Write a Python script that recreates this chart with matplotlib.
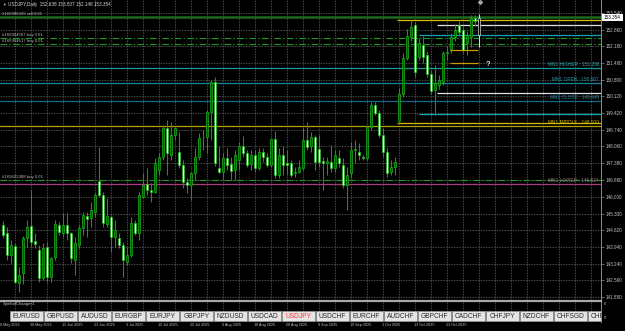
import numpy as np
import matplotlib
matplotlib.use('Agg')
import matplotlib.pyplot as plt
from matplotlib.patches import Rectangle

plt.rcParams['font.family'] = ['Liberation Sans', 'DejaVu Sans']

# daily USDJPY candles (bar 0 = 20 May 2025)
opens = [
    144.84, 144.49, 143.61, 143.98, 142.45, 142.85, 144.29, 144.80, 144.18, 143.81,
    142.65, 143.95, 142.72, 143.54, 144.84, 144.49, 144.84, 144.49, 143.40, 144.02,
    144.70, 145.22, 145.11, 145.38, 146.66, 146.07, 144.88, 145.18, 144.36, 144.29,
    144.02, 143.33, 143.61, 144.91, 144.49, 146.00, 146.51, 146.27, 146.21, 147.10,
    147.64, 148.81, 147.71, 148.53, 147.85, 147.30, 146.62, 146.48, 146.96, 147.64,
    148.44, 148.46, 149.49, 150.72, 147.19, 147.03, 147.57, 147.33, 147.10, 147.50,
    148.08, 147.81, 147.34, 147.71, 147.16, 147.85, 147.64, 147.30, 148.35, 146.89,
    147.71, 147.37, 147.37, 146.96, 147.03, 147.16, 148.33, 148.06, 148.46, 147.95,
    147.47, 147.40, 147.44, 147.16, 147.57, 147.30, 146.48, 146.96, 147.92, 147.85,
    147.64, 147.57, 148.87, 149.76, 149.45, 148.53, 147.85, 147.03, 147.23, 149.10,
    150.20, 151.70, 152.57, 153.05, 151.75, 152.23, 151.82, 151.05, 150.38, 150.60,
    150.70, 151.90, 152.02, 152.57, 153.05, 152.84, 152.30, 152.57, 153.32, 152.638,
]
highs = [
    145.00, 144.77, 144.22, 144.10, 143.10, 144.40, 145.04, 146.27, 144.50, 144.02,
    144.08, 144.15, 143.54, 145.04, 144.95, 145.31, 145.31, 144.56, 144.36, 144.84,
    145.38, 145.38, 145.79, 146.14, 148.02, 146.21, 145.93, 145.25, 145.04, 144.49,
    144.15, 143.95, 145.18, 145.04, 146.21, 146.96, 147.16, 146.55, 147.57, 147.78,
    148.94, 149.15, 149.08, 148.87, 148.67, 147.50, 146.75, 147.03, 147.99, 148.60,
    148.74, 149.56, 150.79, 150.90, 148.08, 147.78, 147.99, 147.64, 147.92, 148.26,
    148.49, 147.92, 147.92, 147.92, 147.99, 147.99, 147.78, 148.40, 148.71, 147.99,
    148.06, 147.92, 147.50, 147.23, 147.50, 148.87, 149.08, 148.67, 148.53, 148.53,
    147.64, 147.64, 148.12, 147.92, 147.92, 147.57, 147.23, 148.26, 148.33, 148.19,
    147.71, 148.94, 149.90, 149.90, 149.56, 148.81, 147.99, 147.50, 147.64, 150.45,
    151.90, 152.90, 153.25, 153.18, 152.50, 152.60, 152.00, 151.20, 151.40, 151.00,
    152.00, 152.20, 152.70, 153.10, 153.20, 153.00, 152.80, 153.46, 153.45, 153.507,
]
lows = [
    144.30, 143.40, 143.26, 142.44, 142.10, 142.40, 143.95, 143.95, 143.90, 142.51,
    142.58, 142.51, 142.51, 143.40, 144.43, 144.36, 144.22, 143.26, 142.78, 143.88,
    144.43, 144.36, 144.77, 145.18, 146.00, 144.77, 144.77, 143.74, 143.95, 143.88,
    142.72, 143.20, 143.54, 144.43, 144.22, 145.93, 146.07, 145.79, 146.14, 146.89,
    147.50, 146.89, 147.50, 148.33, 147.16, 146.34, 146.14, 145.86, 146.69, 147.50,
    147.92, 147.78, 148.33, 147.26, 146.96, 146.69, 147.10, 146.69, 146.69, 147.10,
    147.64, 147.23, 147.10, 147.03, 147.10, 147.44, 147.23, 147.23, 146.75, 146.75,
    146.89, 146.89, 146.82, 146.82, 146.96, 147.10, 147.92, 147.85, 147.10, 147.23,
    146.27, 146.89, 147.03, 147.03, 147.23, 146.34, 145.45, 146.75, 147.37, 147.50,
    147.50, 147.50, 148.74, 149.35, 148.46, 147.64, 146.82, 146.89, 146.89, 149.00,
    150.10, 151.60, 152.40, 150.93, 151.60, 151.50, 150.90, 150.20, 149.35, 150.40,
    150.60, 151.60, 151.90, 152.40, 152.60, 151.90, 151.80, 152.16, 153.00, 152.148,
]
closes = [
    144.43, 143.61, 144.02, 142.51, 142.80, 144.29, 144.77, 144.15, 144.04, 142.65,
    143.88, 142.72, 143.47, 144.86, 144.54, 144.84, 144.49, 143.47, 144.08, 144.70,
    145.25, 145.07, 145.45, 146.07, 146.07, 144.91, 145.21, 144.36, 144.63, 144.02,
    143.40, 143.61, 144.91, 144.49, 146.07, 146.48, 146.27, 146.21, 147.37, 147.64,
    148.81, 147.78, 148.53, 148.81, 147.30, 146.62, 146.48, 146.96, 147.64, 148.40,
    148.47, 149.49, 150.72, 147.37, 147.03, 147.57, 147.30, 147.07, 147.71, 148.08,
    147.78, 147.30, 147.71, 147.16, 147.85, 147.64, 147.30, 148.35, 146.89, 147.71,
    147.30, 147.30, 146.89, 147.03, 147.23, 148.33, 148.03, 148.46, 147.44, 147.44,
    147.40, 147.47, 147.16, 147.71, 147.37, 146.48, 146.89, 147.92, 147.96, 147.71,
    147.57, 148.87, 149.76, 149.42, 148.53, 147.85, 146.96, 147.23, 147.44, 150.20,
    151.70, 152.60, 152.98, 151.13, 152.30, 151.75, 151.05, 150.35, 150.65, 150.80,
    151.90, 151.95, 152.57, 152.84, 152.75, 152.02, 152.64, 153.32, 153.20, 153.354,
]

date_bars = [0, 8, 16, 24, 32, 40, 48, 56, 64, 72, 80, 88, 96, 104, 112]
date_labels = ['20 May 2025', '30 May 2025', '11 Jun 2025', '23 Jun 2025', '3 Jul 2025',
               '15 Jul 2025', '25 Jul 2025', '6 Aug 2025', '18 Aug 2025', '28 Aug 2025',
               '9 Sep 2025', '19 Sep 2025', '1 Oct 2025', '13 Oct 2025', '23 Oct 2025']
price_ticks = [153.540, 152.860, 152.180, 151.480, 150.800, 150.120, 149.420, 148.740, 148.060,
               147.380, 146.680, 146.000, 145.300, 144.620, 143.940, 143.240, 142.560, 141.880]

# monthly levels
mn1_names = ['MN1 HIGHER', 'MN1 OPEN', 'MN1 CLOSE', 'MN1 MIDDLE', 'MN1 LOWER']
mn1_values = [151.296, 150.667, 149.948, 148.910, 146.524]
mn1_line_colors = ['#169aa0', '#13879a', '#136a88', '#b4a000', '#a83c78']
mn1_text_colors = ['#2aa4aa', '#2a98a8', '#2a88a8', '#d4c000', '#a07890']

# open orders
order_labels = ['#166906665 sell 0.01', '#166904567 buy 0.01', '#166904617 buy 0.01', '#165822488 buy 0.01']
order_prices = [153.37, 152.51, 152.27, 146.68]

# other horizontal levels drawn from a bar to the right edge
ray_prices = [153.25, 149.03, 152.64, 149.39, 153.05, 150.26]
ray_start = [98.5, 98.5, 104, 104, 108.5, 108.5]
ray_colors = ['#d8c000', '#d8c000', '#10a8b0', '#10a8b0', '#e0e0e0', '#e0e0e0']
seg_prices = [152.02, 151.49]
seg_span = (111.75, 118.75)

symbols = ['EURUSD', 'GBPUSD', 'AUDUSD', 'EURGBP', 'EURJPY', 'GBPJPY', 'NZDUSD', 'USDCAD', 'USDJPY',
           'USDCHF', 'EURCHF', 'AUDCHF', 'GBPCHF', 'CADCHF', 'CHFJPY', 'NZDCHF', 'CHFSGD', 'CHFHKD']
current = 'USDJPY'

W, H = 625, 331
fig = plt.figure(figsize=(W / 100, H / 100), dpi=100, facecolor='black')

ax = fig.add_axes([0, 1 - 300 / H, 601 / W, 300 / H], facecolor='black')
ax.set_xlim(-0.75, 149.5)
ax.set_ylim(141.758, 154.074)

o = np.array(opens); h = np.array(highs); l = np.array(lows); c = np.array(closes)
x = np.arange(len(o))
bull = c >= o
last = len(o) - 1

wick_cols = ['#139c13'] * last + ['#d8d8d8']
ax.vlines(x, l, h, colors=wick_cols, linewidth=0.75, zorder=3)
bottoms = np.minimum(o, c)
heights = np.maximum(np.abs(c - o), 0.025)
faces = np.where(bull, '#0b540b', '#e4ffe4').tolist()
edges = ['#18b418'] * len(o)
faces[last] = 'black'
edges[last] = '#d8d8d8'
ax.bar(x, heights, bottom=bottoms, width=0.72, color=faces, edgecolor=edges,
       linewidth=0.5, zorder=4)

# grid
ax.set_xticks(np.arange(3.1, 150, 4))
ax.tick_params(axis='x', length=0, labelbottom=False)
ax.yaxis.tick_right()
ax.set_yticks(price_ticks)
ax.set_yticklabels(['%.3f' % p for p in price_ticks])
ax.tick_params(axis='y', colors='#8c8c8c', labelcolor='#c4c4c4', labelsize=3.3,
               length=2, width=0.5, pad=1.5)
ax.grid(True, color='#5e5e5e', linestyle=(0, (1.6, 1.6)), linewidth=0.6)
ax.set_axisbelow(True)
for s in ['top', 'left', 'bottom']:
    ax.spines[s].set_visible(False)
ax.spines['right'].set_color('#8c8c8c')
ax.spines['right'].set_linewidth(0.7)

# monthly levels
for name, v, lc, tc in zip(mn1_names, mn1_values, mn1_line_colors, mn1_text_colors):
    ax.axhline(v, color=lc, linewidth=0.9, zorder=2)
    ax.annotate('%s : %.3f' % (name, v), (149, v), xytext=(0, 0.6), textcoords='offset points',
                ha='right', va='bottom', fontsize=3.4, color=tc, zorder=6)

for p, s0, col in zip(ray_prices, ray_start, ray_colors):
    ax.hlines(p, s0, 149.5, colors=col, linewidth=0.9, zorder=2)
ax.hlines(seg_prices, seg_span[0], seg_span[1], colors='#c89a00', linewidth=0.9, zorder=5)

# orders
for i, (lab, p) in enumerate(zip(order_labels, order_prices)):
    if 'sell' in lab:
        ax.axhline(p, color='#1d6a1d', linewidth=1.8, zorder=2)
    else:
        ax.axhline(p, color='#1f9a1f', linewidth=0.8, linestyle=(0, (6, 2, 1.2, 2)), zorder=2)
    ax.annotate(lab, (-0.2, p), xytext=(0, 0.8), textcoords='offset points',
                ha='left', va='bottom', fontsize=3.1, color='#b4b4b4', zorder=6)

# sub window (symbol changer)
ax2 = fig.add_axes([0, 1 - 322 / H, 601 / W, 21 / H], facecolor='black', sharex=ax)
ax2.set_ylim(0, 1)
ax2.set_yticks([])
ax2.tick_params(axis='x', length=0, labelbottom=False)
ax2.grid(True, axis='x', color='#5e5e5e', linestyle=(0, (1.6, 1.6)), linewidth=0.6)
for s in ['left', 'bottom']:
    ax2.spines[s].set_visible(False)
ax2.spines['top'].set_color('#a8a8a8')
ax2.spines['top'].set_linewidth(1.6)
ax2.spines['right'].set_color('#8c8c8c')
ax2.spines['right'].set_linewidth(0.7)
for b, lab in zip(date_bars, date_labels):
    ax2.text(b - 1.2, -0.16, lab, transform=ax2.get_xaxis_transform(), ha='left', va='center',
             fontsize=2.7, color='#c4c4c4', clip_on=False)

axb = fig.add_axes([0, 1 - 322 / H, 601 / W, 12 / H])
axb.set_xlim(0, 601)
axb.set_ylim(322, 310)
axb.axis('off')
for k, sym in enumerate(symbols):
    x0 = 10 + 34 * k
    axb.add_patch(Rectangle((x0, 311), 33, 10, facecolor='#e4e4e4', edgecolor='#9a9a9a',
                            linewidth=0.5, clip_on=True))
    axb.text(x0 + 16.5, 316.2, sym, ha='center', va='center', fontsize=4.8,
             color='#ff3434' if sym == current else '#2c2c2c', clip_on=True)

# overlay for the terminal texts
ov = fig.add_axes([0, 0, 1, 1])
ov.set_xlim(0, W)
ov.set_ylim(H, 0)
ov.axis('off')
ov.patch.set_alpha(0)
ov.text(2.5, 4.5, '\u25bc', fontsize=2.6, color='#c8c8c8', va='center', ha='left')
ov.text(8, 4.5, 'USDJPY,Daily  %.3f %.3f %.3f %.3f' % (o[-1], h[-1], l[-1], c[-1]),
        fontsize=3.3, color='#d8d8d8', va='center', ha='left')
ov.add_patch(Rectangle((602, 13.5), 21, 7.5, facecolor='white', edgecolor='none'))
ov.text(612.5, 17.3, '%.3f' % c[-1], fontsize=3.3, color='black', ha='center', va='center')
ov.text(3, 303.8, 'SymbolChanger1', fontsize=3.1, color='#c4c4c4', ha='left', va='center')
ov.text(604, 304, '0', fontsize=3.1, color='#c4c4c4', ha='left', va='center')
ov.text(604, 318, '0', fontsize=3.1, color='#c4c4c4', ha='left', va='center')
ov.text(488, 65, '?', fontsize=5.5, color='#d0e4f4', ha='center', va='center', fontweight='bold')
ov.plot([480], [2], marker='D', markersize=2, color='#a0a0a0')

fig.savefig('out.png', dpi=100, facecolor='black')
